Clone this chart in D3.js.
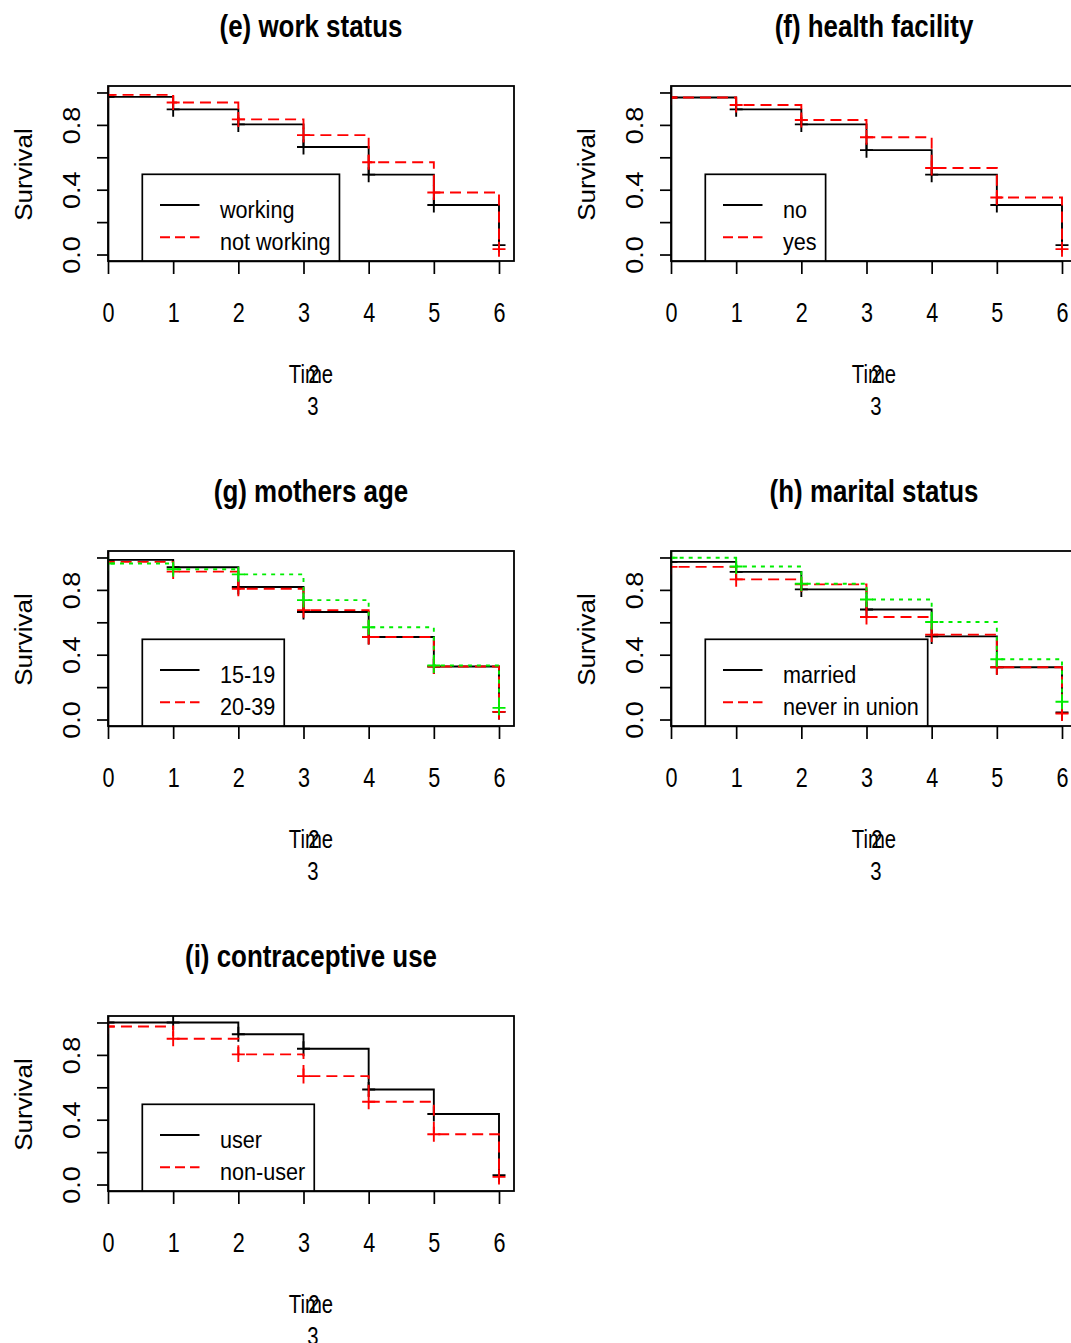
<!DOCTYPE html>
<html>
<head>
<meta charset="utf-8">
<script src="https://cdn.jsdelivr.net/npm/d3@7"></script>
<style>
  html, body { margin: 0; padding: 0; background: #fff; }
  svg { display: block; }
  text { font-family: "Liberation Sans", Arial, Helvetica, sans-serif; fill: #000; }
</style>
</head>
<body>
<svg id="chart" width="1071" height="1343"></svg>
<script>
// ---------- data ----------
const times = [0, 1, 2, 3, 4, 5, 6];
const xTickLabels = ["0", "1", "2", "3", "4", "5", "6"];
const yTicks = [0, 0.2, 0.4, 0.6, 0.8, 1.0];
const yTickLabels = ["0.0", "", "0.4", "", "0.8", ""];

const panelTitles = ["(e) work status", "(f) health facility", "(g) mothers age", "(h) marital status", "(i) contraceptive use"];

// (e) work status
const workWorking    = [0.973, 0.896, 0.803, 0.664, 0.493, 0.306, 0.058];
const workNotWorking = [0.985, 0.938, 0.834, 0.737, 0.569, 0.383, 0.033];
const workLegend = ["working", "not working"];

// (f) health facility
const facilityNo  = [0.969, 0.896, 0.803, 0.644, 0.493, 0.306, 0.058];
const facilityYes = [0.969, 0.923, 0.830, 0.724, 0.534, 0.352, 0.033];
const facilityLegend = ["no", "yes"];

// (g) mothers age
const age15to19 = [0.985, 0.940, 0.818, 0.664, 0.509, 0.327, 0.047];
const age20to39 = [0.973, 0.913, 0.807, 0.675, 0.509, 0.327, 0.047];
const ageThird  = [0.963, 0.927, 0.896, 0.737, 0.569, 0.333, 0.072];
const ageLegend = ["15-19", "20-39"];

// (h) marital status
const maritalMarried = [0.973, 0.911, 0.803, 0.679, 0.513, 0.323, 0.043];
const maritalNever   = [0.942, 0.865, 0.834, 0.633, 0.524, 0.323, 0.037];
const maritalThird   = [0.998, 0.944, 0.838, 0.741, 0.602, 0.372, 0.110];
const maritalLegend = ["married", "never in union"];

// (i) contraceptive use
const contraUser    = [1.000, 1.000, 0.927, 0.838, 0.586, 0.435, 0.058];
const contraNonUser = [0.975, 0.900, 0.803, 0.669, 0.511, 0.310, 0.047];
const contraLegend = ["user", "non-user"];

const panels = [
  { title: panelTitles[0], series: [workWorking, workNotWorking], legend: workLegend },
  { title: panelTitles[1], series: [facilityNo, facilityYes], legend: facilityLegend },
  { title: panelTitles[2], series: [age15to19, age20to39, ageThird], legend: ageLegend },
  { title: panelTitles[3], series: [maritalMarried, maritalNever, maritalThird], legend: maritalLegend },
  { title: panelTitles[4], series: [contraUser, contraNonUser], legend: contraLegend }
];

// ---------- styles / layout ----------
const seriesStyle = [
  { color: "#000000", dash: null },
  { color: "#ff0000", dash: "11,6" },
  { color: "#00ee00", dash: "4,5" }
];
const colLeft = [108, 671];
const rowTop = [86, 551, 1016];
const boxW = 406, boxH = 175;
const SX = 0.8;   // horizontal text compression seen in the reference

const svg = d3.select("#chart");

const x = d3.scaleLinear().domain([0, 6]).range([0, 391]);
const y = d3.scaleLinear().domain([-0.04, 1.04]).range([boxH, 0]);

function addText(g, tx, ty, str, opts) {
  const t = g.append("text")
    .attr("transform", `translate(${tx},${ty}) scale(${opts.sx || SX},1)` + (opts.rotate ? ` rotate(${opts.rotate})` : ""))
    .attr("text-anchor", opts.anchor || "middle")
    .style("font-size", opts.size + "px")
    .style("font-weight", opts.weight || "normal")
    .text(str);
  return t;
}

panels.forEach((p, i) => {
  const L = colLeft[i % 2], T = rowTop[Math.floor(i / 2)];
  const g = svg.append("g").attr("transform", `translate(${L},${T})`);
  const clipId = "clip" + i;
  g.append("clipPath").attr("id", clipId)
    .append("rect").attr("x", 0).attr("y", 0).attr("width", boxW).attr("height", boxH);

  // title
  addText(g, boxW / 2, -49, p.title, { size: 32, weight: "bold", sx: 0.81 });

  // axes
  const xa = g.append("g").attr("transform", `translate(0,${boxH})`)
    .call(d3.axisBottom(x).tickValues(times).tickSize(13).tickSizeOuter(0).tickFormat((d, k) => xTickLabels[k]));
  xa.selectAll("text").attr("y", null).attr("dy", null)
    .attr("transform", `translate(0,60.5) scale(${SX},1)`)
    .style("font-size", "27px").attr("font-family", null);
  const ya = g.append("g")
    .call(d3.axisLeft(y).tickValues(yTicks).tickSize(11).tickSizeOuter(0).tickFormat((d, k) => yTickLabels[k]));
  ya.selectAll("text").attr("x", null).attr("dy", null)
    .attr("text-anchor", "middle")
    .attr("transform", `translate(-28,0) scale(0.88,1) rotate(-90)`)
    .style("font-size", "27px").attr("font-family", null);
  [xa, ya].forEach(a => {
    a.selectAll("path, line").attr("stroke", "#000").attr("stroke-width", 1.7);
  });

  // axis titles
  addText(g, -76, boxH / 2 + 1, "Survival", { size: 26, rotate: -90, sx: 0.92 });
  addText(g, boxW / 2, 297, "Time", { size: 26, sx: 0.78 });
  addText(g, boxW / 2 + 3, 297, "2", { size: 26, sx: 0.78 });
  addText(g, boxW / 2 + 2, 329, "3", { size: 26, sx: 0.78 });

  // curves
  const plot = g.append("g").attr("clip-path", `url(#${clipId})`);
  const line = d3.line().x(d => x(d[0])).y(d => y(d[1])).curve(d3.curveStepAfter);
  p.series.forEach((vals, si) => {
    const st = seriesStyle[si];
    const pts = [[0, 1]].concat(times.map((t, k) => [t, vals[k]]));
    plot.append("path").attr("d", line(pts))
      .attr("fill", "none").attr("stroke", st.color).attr("stroke-width", 1.9)
      .attr("stroke-dasharray", st.dash);
    plot.selectAll(null).data(times).enter().append("path")
      .attr("d", (t, k) => {
        const cx = x(t), cy = y(vals[k]);
        return `M${cx - 6.5},${cy}H${cx + 6.5}M${cx},${cy - 7.5}V${cy + 7.5}`;
      })
      .attr("fill", "none").attr("stroke", st.color).attr("stroke-width", 1.9);
  });

  // legend
  const lg = plot.append("g");
  const legRect = lg.append("rect").attr("x", 34.3).attr("y", 88.3).attr("height", 100)
    .attr("fill", "#fff").attr("stroke", "#000").attr("stroke-width", 1.7);
  let maxW = 0;
  p.legend.forEach((lab, k) => {
    const ly = 119 + k * 32.3;
    const st = seriesStyle[k];
    lg.append("line").attr("x1", 52).attr("x2", 91.5).attr("y1", ly).attr("y2", ly)
      .attr("stroke", st.color).attr("stroke-width", 1.9).attr("stroke-dasharray", st.dash ? "10,5" : null);
    const t = addText(lg, 112, ly + 13, lab, { size: 24, anchor: "start", sx: 0.9 });
    maxW = Math.max(maxW, t.node().getComputedTextLength() * 0.9);
  });
  legRect.attr("width", 112 + maxW + 9 - 34.3);

  // box
  g.append("rect").attr("x", 0).attr("y", 0).attr("width", boxW).attr("height", boxH)
    .attr("fill", "none").attr("stroke", "#000").attr("stroke-width", 1.8);
});
</script>
</body>
</html>
